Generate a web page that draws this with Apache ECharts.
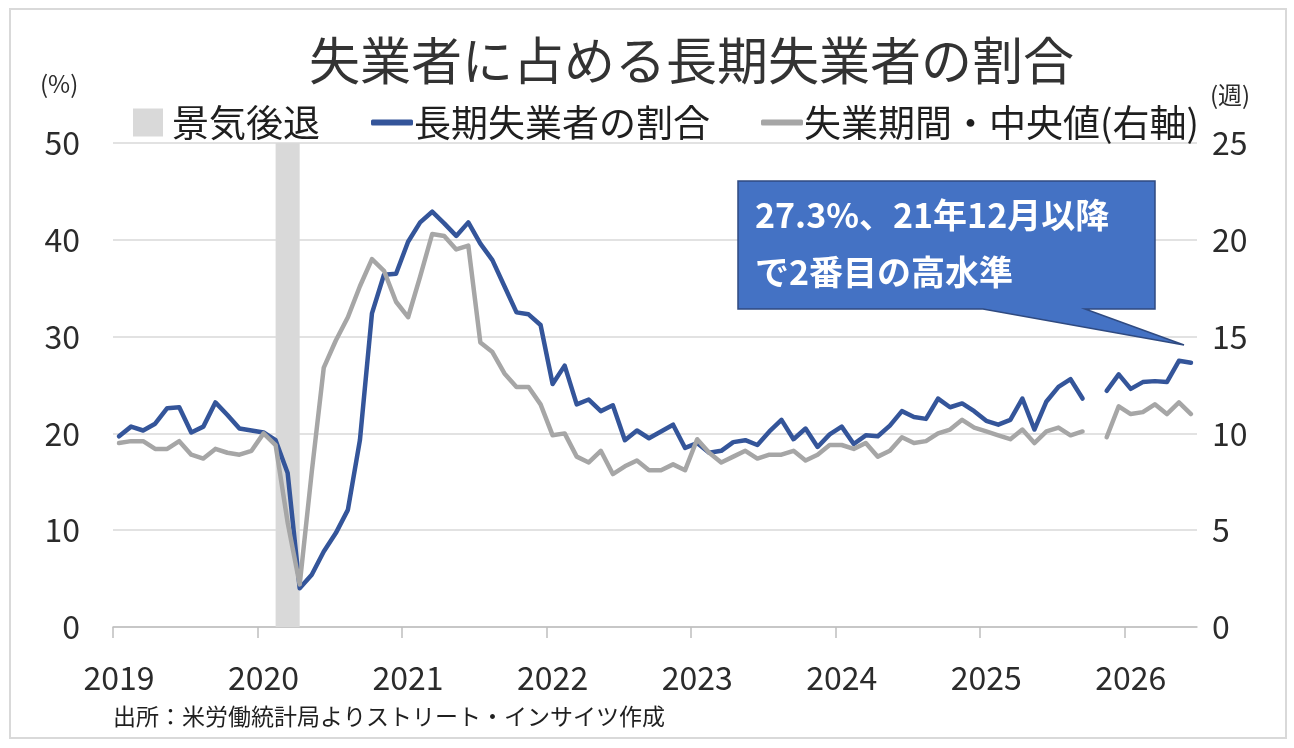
<!DOCTYPE html>
<html>
<head>
<meta charset="utf-8">
<script src="https://cdn.jsdelivr.net/npm/echarts@6/dist/echarts.min.js"></script>
<style>
  html, body { margin: 0; padding: 0; background: #fff; }
  #chart { width: 1294px; height: 748px; }
</style>
</head>
<body>
<div id="chart"></div>
<script>
// monthly data, Jan 2019 .. Jun 2026 (Oct 2025 missing)
const startYear = 2019;
const yearLabels = ['2019', '2020', '2021', '2022', '2023', '2024', '2025', '2026'];

// 長期失業者の割合 (%)
const longTermShare = [
  19.7, 20.7, 20.3, 21.0, 22.6, 22.7, 20.1, 20.7, 23.2, 21.9, 20.5, 20.3,
  20.1, 19.3, 15.9, 4.0, 5.4, 7.8, 9.7, 12.1, 19.3, 32.4, 36.4, 36.5,
  39.8, 41.8, 42.9, 41.7, 40.4, 41.8, 39.6, 37.9, 35.2, 32.5, 32.3, 31.2,
  25.1, 27.0, 23.0, 23.5, 22.3, 22.9, 19.3, 20.3, 19.5, 20.2, 20.9, 18.5,
  19.0, 18.0, 18.2, 19.1, 19.3, 18.8, 20.2, 21.4, 19.4, 20.5, 18.6, 19.9,
  20.7, 18.9, 19.8, 19.7, 20.8, 22.3, 21.7, 21.5, 23.6, 22.7, 23.1, 22.3,
  21.3, 20.9, 21.4, 23.6, 20.4, 23.3, 24.8, 25.6, 23.6, null, 24.4, 26.1,
  24.6, 25.3, 25.4, 25.3, 27.5, 27.3
];

// 失業期間・中央値 (週, 右軸)
const medianWeeks = [
  9.5, 9.6, 9.6, 9.2, 9.2, 9.6, 8.9, 8.7, 9.2, 9.0, 8.9, 9.1,
  10.0, 9.4, 5.4, 2.2, 8.0, 13.4, 14.8, 16.0, 17.6, 19.0, 18.4, 16.8,
  16.0, 18.1, 20.3, 20.2, 19.5, 19.7, 14.7, 14.2, 13.1, 12.4, 12.4, 11.5,
  9.9, 10.0, 8.8, 8.5, 9.1, 7.9, 8.3, 8.6, 8.1, 8.1, 8.4, 8.1,
  9.7, 9.0, 8.5, 8.8, 9.1, 8.7, 8.9, 8.9, 9.1, 8.6, 8.9, 9.4,
  9.4, 9.2, 9.5, 8.8, 9.1, 9.8, 9.5, 9.6, 10.0, 10.2, 10.7, 10.3,
  10.1, 9.9, 9.7, 10.2, 9.5, 10.1, 10.3, 9.9, 10.1, null, 9.8, 11.4,
  11.0, 11.1, 11.5, 11.0, 11.6, 11.0
];

// 景気後退 (NBER): Feb 2020 - Apr 2020
const recession = ['2020-02', '2020-04'];

const FONT = "'Noto Sans CJK JP', 'Noto Sans', sans-serif";
const TEXT = '#2b2b2b';

function monthIndex(ym) {
  const [y, m] = ym.split('-').map(Number);
  return (y - startYear) * 12 + (m - 1);
}
// each month sits in the middle of its bin
const toPairs = arr => arr.map((v, i) => [i + 0.5, v]);

const nMonths = longTermShare.length;
const tickValues = yearLabels.map((_, k) => k * 12);
const labelValues = yearLabels.map((_, k) => k * 12 + 0.5);

const chart = echarts.init(document.getElementById('chart'));

chart.setOption({
  backgroundColor: '#fff',
  animation: false,
  textStyle: { fontFamily: FONT },
  title: {
    text: '失業者に占める長期失業者の割合',
    left: 304,
    top: 30,
    textStyle: { fontSize: 51, fontWeight: 'normal', color: '#333', fontFamily: FONT }
  },
  legend: [
    {
      data: ['景気後退'], left: 128, top: 99, icon: 'rect',
      itemWidth: 30, itemHeight: 28,
      textStyle: { fontSize: 37, color: '#1f1f1f', fontFamily: FONT, padding: [0, 0, 0, 4] }
    },
    {
      data: ['長期失業者の割合'], left: 366, top: 99, icon: 'roundRect',
      itemWidth: 42, itemHeight: 6,
      textStyle: { fontSize: 37, color: '#1f1f1f', fontFamily: FONT, padding: [0, 0, 0, -4] }
    },
    {
      data: ['失業期間・中央値(右軸)'], left: 756, top: 99, icon: 'roundRect',
      itemWidth: 42, itemHeight: 6,
      textStyle: { fontSize: 37, color: '#1f1f1f', fontFamily: FONT, padding: [0, 0, 0, -4] }
    }
  ],
  grid: { left: 113, right: 97, top: 143, bottom: 121 },
  xAxis: {
    type: 'value',
    min: 0,
    max: nMonths,
    splitLine: { show: false },
    axisLine: { show: true, lineStyle: { color: '#bfbfbf', width: 1.5 } },
    axisTick: { show: true, customValues: tickValues, length: 11, lineStyle: { color: '#bfbfbf', width: 1.5 } },
    axisLabel: {
      customValues: labelValues,
      formatter: v => String(startYear + Math.floor(v / 12)),
      fontSize: 32, color: TEXT, margin: 35, fontFamily: FONT
    }
  },
  yAxis: [
    {
      type: 'value', min: 0, max: 50, interval: 10,
      axisLine: { show: false }, axisTick: { show: false },
      splitLine: { lineStyle: { color: '#d9d9d9', width: 1.5 } },
      axisLabel: { fontSize: 32, color: TEXT, margin: 33, fontFamily: FONT }
    },
    {
      type: 'value', min: 0, max: 25, interval: 5,
      axisLine: { show: false }, axisTick: { show: false },
      splitLine: { show: false },
      axisLabel: { fontSize: 32, color: TEXT, margin: 15, fontFamily: FONT }
    }
  ],
  series: [
    {
      name: '景気後退',
      type: 'bar',
      data: [],
      itemStyle: { color: '#d9d9d9' },
      markArea: {
        silent: true,
        itemStyle: { color: '#d9d9d9', opacity: 1 },
        data: [[{ xAxis: monthIndex(recession[0]) + 0.5 }, { xAxis: monthIndex(recession[1]) + 0.5 }]]
      },
      z: 1
    },
    {
      name: '長期失業者の割合',
      type: 'line',
      yAxisIndex: 0,
      data: toPairs(longTermShare),
      showSymbol: false,
      connectNulls: false,
      itemStyle: { color: '#34559a' },
      lineStyle: { color: '#34559a', width: 4.5, cap: 'round', join: 'round' },
      z: 3
    },
    {
      name: '失業期間・中央値(右軸)',
      type: 'line',
      yAxisIndex: 1,
      data: toPairs(medianWeeks),
      showSymbol: false,
      connectNulls: false,
      itemStyle: { color: '#a6a6a6' },
      lineStyle: { color: '#a6a6a6', width: 4.5, cap: 'round', join: 'round' },
      z: 4
    }
  ],
  graphic: [
    {
      type: 'rect', z: -10, silent: true,
      shape: { x: 10, y: 9, width: 1276, height: 729 },
      style: { fill: 'none', stroke: '#d9d9d9', lineWidth: 2 }
    },
    {
      type: 'text', left: 40, top: 72,
      style: { text: '(%)', fontSize: 24, fill: TEXT, fontFamily: FONT }
    },
    {
      type: 'text', left: 1210, top: 83,
      style: { text: '(週)', fontSize: 24, fill: TEXT, fontFamily: FONT }
    },
    {
      type: 'text', left: 113, top: 705,
      style: { text: '出所：米労働統計局よりストリート・インサイツ作成', fontSize: 23, fill: '#1f1f1f', fontFamily: FONT }
    },
    {
      type: 'polygon', z: 100,
      shape: {
        points: [[738, 181], [1155, 181], [1155, 309], [1085, 309], [1184, 345], [983, 309], [738, 309]]
      },
      style: { fill: '#4472c4', stroke: '#2f4a80', lineWidth: 1.5 }
    },
    {
      type: 'text', z: 101, left: 755, top: 198,
      style: { text: '27.3%、21年12月以降', fontSize: 34, fontWeight: 'bold', fill: '#fff', fontFamily: FONT }
    },
    {
      type: 'text', z: 101, left: 755, top: 255,
      style: { text: 'で2番目の高水準', fontSize: 34, fontWeight: 'bold', fill: '#fff', fontFamily: FONT }
    }
  ]
});
</script>
</body>
</html>
